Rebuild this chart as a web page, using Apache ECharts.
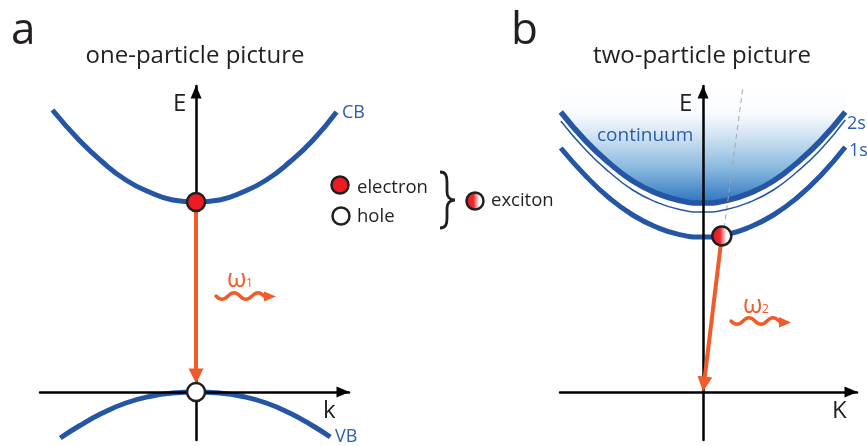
<!DOCTYPE html>
<html><head><meta charset="utf-8">
<script src="https://cdn.jsdelivr.net/npm/echarts@6/dist/echarts.min.js"></script>
<style>html,body{margin:0;padding:0;background:#fff}#c{width:867px;height:446px}</style>
</head><body><div id="c"></div>
<script>
// ---- data (k: momentum, E: energy, arbitrary units) ----
const kA   = [-0.92,-0.75,-0.6,-0.45,-0.3,-0.15,0,0.15,0.3,0.45,0.6,0.75,0.9];
const cbE  = [282,252,230,212,200,192,190,192,200,212,230,252,280];
const kVB  = [-0.87,-0.75,-0.6,-0.45,-0.3,-0.15,0,0.15,0.3,0.45,0.6,0.75,0.86];
const vbE  = [-46,-34,-21,-11,-4.5,-1,0,-1,-4.5,-11,-21,-34,-45];
const kB   = [-0.91,-0.75,-0.6,-0.45,-0.3,-0.15,0,0.15,0.3,0.45,0.6,0.75,0.91];
const contE= [280,251,229,211,199,191.5,189,191.5,199,211,229,251,280];
const s2E  = [271,242,220,202,190,182.5,180,182.5,190,202,220,242,272];
const s1E  = [244,216,194,177,165,157.4,155,157.4,165,177,194,216,245];
const electronA = [0,190];
const holeA = [0,0];
const excitonB = [0.12,156];
const arrowA = [[0,190],[0,16]];
const arrowB = [[0.12,156],[0.006,8]];
const dashB = [[0.128,155],[0.256,306]];

const BLUE='#2456a5', TBLUE='#2b5fae', ORANGE='#f15a29', RED='#ed1c24', INK='#231f20';
const FF='"Open Sans", sans-serif';
const zip=(a,b)=>a.map((v,i)=>[v,b[i]]);

const chart = echarts.init(document.getElementById('c'), null, {renderer:'canvas'});
const axisLine = {show:true,onZero:true,symbol:['none','triangle'],symbolSize:[11,13],symbolOffset:[0,-6],lineStyle:{color:'#000',width:2.5}};
const hideAx = {axisTick:{show:false},axisLabel:{show:false},splitLine:{show:false},z:3};
const excGrad = {type:'linear',x:0,y:0,x2:1,y2:0,colorStops:[{offset:0,color:'#e3151f'},{offset:0.42,color:'#ea2a2f'},{offset:0.72,color:'#ffffff'},{offset:1,color:'#ffffff'}]};

function txt(text,x,y,size,color,align){return {type:'text',z:20,style:{text,x,y,fontSize:size,fontFamily:FF,fill:color||INK,align:align||'left',verticalAlign:'middle'}};}

const wave1 = 'M216,296 q6,6.5 12,0 t12,0 t12,0 t12,0';
const wave2 = 'M731,321 q6,6.5 12,0 t12,0 t12,0 t12,0';
const brace = 'M440,172 C446,172 447,176 447,182 L447,192 C447,197 450,200 455,200 C450,200 447,203 447,208 L447,218 C447,224 446,228 440,228';

chart.setOption({
  animation:false,
  grid:[{left:40,top:86,width:309,height:354,outerBoundsMode:'none'},{left:560,top:86,width:297,height:354,outerBoundsMode:'none'}],
  xAxis:[Object.assign({gridIndex:0,type:'value',min:-1,max:0.98,axisLine},hideAx),
         Object.assign({gridIndex:1,type:'value',min:-0.915,max:0.985,axisLine},hideAx)],
  yAxis:[Object.assign({gridIndex:0,type:'value',min:-48,max:306,axisLine},hideAx),
         Object.assign({gridIndex:1,type:'value',min:-48,max:306,axisLine},hideAx)],
  series:[
    {type:'line',name:'CB',xAxisIndex:0,yAxisIndex:0,data:zip(kA,cbE),smooth:true,showSymbol:false,lineStyle:{color:BLUE,width:5},z:2},
    {type:'line',name:'VB',xAxisIndex:0,yAxisIndex:0,data:zip(kVB,vbE),smooth:true,showSymbol:false,lineStyle:{color:BLUE,width:5},z:2},
    {type:'line',name:'continuum',xAxisIndex:1,yAxisIndex:1,data:zip(kB,contE),smooth:true,showSymbol:false,
      lineStyle:{color:BLUE,width:5.5},
      areaStyle:{origin:'end',opacity:1,color:{type:'linear',x:0,y:0,x2:0,y2:1,colorStops:[
        {offset:0,color:'#ffffff'},{offset:0.24,color:'#f8fbfd'},{offset:0.42,color:'#d2e4f3'},{offset:0.7,color:'#8ab9df'},{offset:1,color:'#2c74c0'}]}},z:1},
    {type:'line',name:'2s',xAxisIndex:1,yAxisIndex:1,data:zip(kB,s2E),smooth:true,showSymbol:false,lineStyle:{color:BLUE,width:1.5},z:2},
    {type:'line',name:'1s',xAxisIndex:1,yAxisIndex:1,data:zip(kB,s1E),smooth:true,showSymbol:false,lineStyle:{color:BLUE,width:5},z:2},
    {type:'lines',coordinateSystem:'cartesian2d',xAxisIndex:1,yAxisIndex:1,data:[{coords:dashB}],symbol:['none','none'],
      lineStyle:{color:'#a6a6a6',width:1,type:[5,4],opacity:1},z:2},
    {type:'lines',coordinateSystem:'cartesian2d',xAxisIndex:0,yAxisIndex:0,data:[{coords:arrowA}],symbol:['none','triangle'],symbolSize:15,
      lineStyle:{color:ORANGE,width:4,opacity:1},itemStyle:{color:ORANGE},z:4},
    {type:'lines',coordinateSystem:'cartesian2d',xAxisIndex:1,yAxisIndex:1,data:[{coords:arrowB}],symbol:['none','triangle'],symbolSize:15,
      lineStyle:{color:ORANGE,width:4,opacity:1},itemStyle:{color:ORANGE},z:4},
    {type:'scatter',xAxisIndex:0,yAxisIndex:0,symbolSize:18,z:5,
      data:[{value:electronA,itemStyle:{color:RED,borderColor:INK,borderWidth:2.5,opacity:1}},
            {value:holeA,itemStyle:{color:'#fff',borderColor:INK,borderWidth:2.5,opacity:1}}]},
    {type:'scatter',xAxisIndex:1,yAxisIndex:1,symbolSize:19,z:5,
      data:[{value:excitonB,itemStyle:{color:excGrad,borderColor:INK,borderWidth:2.5,opacity:1}}]},
    {type:'custom',coordinateSystem:'none',data:[0],z:6,silent:true,
      renderItem:function(){return {type:'group',children:[
        {type:'path',shape:{pathData:brace},style:{fill:null,stroke:INK,lineWidth:2.8}},
        {type:'path',shape:{pathData:wave1},style:{fill:null,stroke:ORANGE,lineWidth:3.4,lineCap:'round'}},
        {type:'polygon',shape:{points:[[264,291.5],[276,296.5],[264,301.5]]},style:{fill:ORANGE}},
        {type:'path',shape:{pathData:wave2},style:{fill:null,stroke:ORANGE,lineWidth:3.4,lineCap:'round'}},
        {type:'polygon',shape:{points:[[779,317],[791,322.5],[779,327.5]]},style:{fill:ORANGE}}
      ]};}}
  ],
  graphic:[
    txt('a',11,31,44),
    txt('b',511,31,44),
    txt('one-particle picture',195,56,24,INK,'center'),
    txt('two-particle picture',702,56,24,INK,'center'),
    txt('E',173,104,24), txt('E',679,104,24),
    txt('k',323,411,24), txt('K',832,411,24),
    txt('CB',342,113,18,TBLUE), txt('VB',335,437,18,TBLUE),
    txt('2s',847,124,18,TBLUE), txt('1s',849,151,18,TBLUE),
    txt('continuum',597,136,19,TBLUE),
    txt('electron',357,188,18.5), txt('hole',357,217,18.5), txt('exciton',491,201,18.5),
    txt('ω',227,280,25,ORANGE), txt('1',246,284,12,ORANGE),
    txt('ω',743,306,25,ORANGE), txt('2',762,310,12,ORANGE),
    {type:'circle',z:20,shape:{cx:340,cy:185,r:8.5},style:{fill:RED,stroke:INK,lineWidth:2.5}},
    {type:'circle',z:20,shape:{cx:341,cy:216,r:8.5},style:{fill:'#fff',stroke:INK,lineWidth:2.5}},
    {type:'circle',z:20,shape:{cx:475,cy:201,r:8.5},style:{fill:excGrad,stroke:INK,lineWidth:2.5}}
  ]
});
</script></body></html>
